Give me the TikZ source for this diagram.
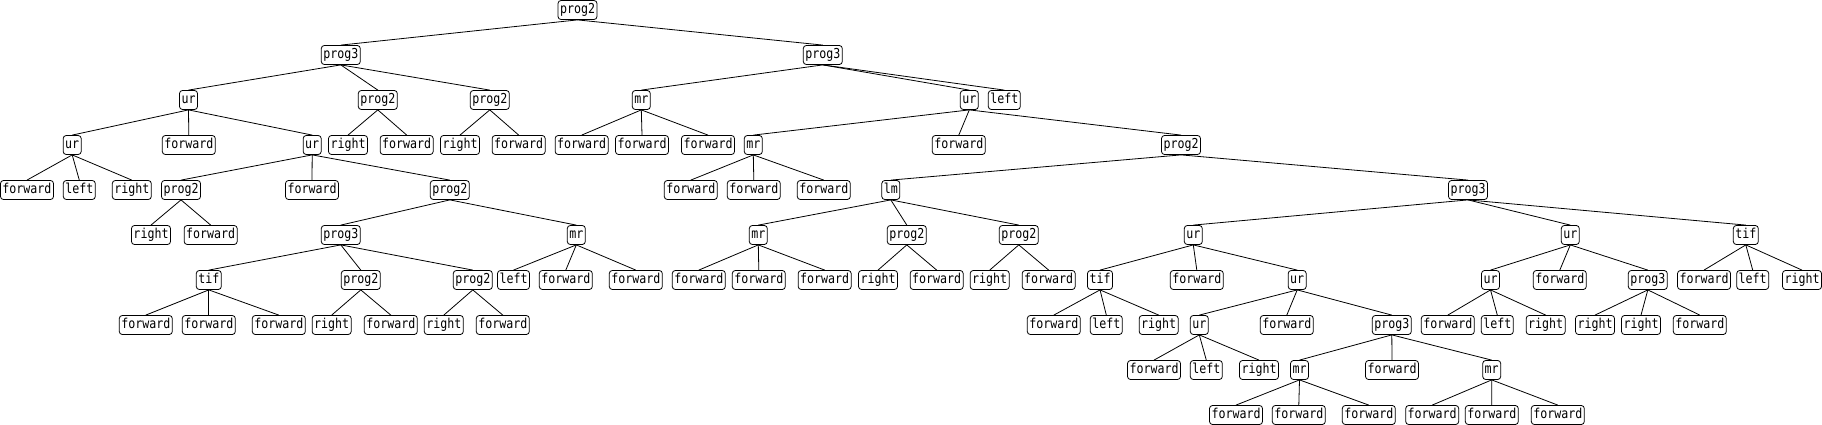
\documentclass[tikz,border=0pt]{standalone}
\usepackage{fontspec}
\setmonofont[FakeStretch=0.85]{DejaVu Sans Mono}
\usetikzlibrary{positioning}

\tikzset{op/.style={draw, rounded corners=3pt, inner xsep=2pt, inner ysep=0pt,
    minimum height=19pt, text height=10pt, text depth=3pt,
    font=\ttfamily\fontsize{13.68}{14}\selectfont}}

\begin{document}
\begin{tikzpicture}[x=1pt, y=-1pt, line width=0.8pt]
        \useasboundingbox (0,0) rectangle (1822,425);

        % Root of the tree
        \node[op] (r) at (577.5,10) {prog2};

        % Each level: name/parent/x/label, the edge goes up to the parent
        \foreach \n/\p/\x/\txt in {r1/r/340.8/prog3, r2/r/822.8/prog3}
        {\node[op] (\n) at (\x,55) {\txt}; \draw (\p.south) -- (\n.north);}

        \foreach \n/\p/\x/\txt in {r11/r1/188.5/ur, r12/r1/377.8/prog2, r13/r1/489.8/prog2,
            r21/r2/641.3/mr, r22/r2/969.3/ur, r23/r2/1004.3/left}
        {\node[op] (\n) at (\x,100) {\txt}; \draw (\p.south) -- (\n.north);}

        \foreach \n/\p/\x/\txt in {r111/r11/72.2/ur, r112/r11/188.8/forward, r113/r11/312.2/ur,
            r121/r12/348/right, r122/r12/406.7/forward,
            r131/r13/460/right, r132/r13/518.7/forward,
            r211/r21/581.7/forward, r212/r21/642/forward, r213/r21/708/forward,
            r221/r22/753.3/mr, r222/r22/958.8/forward, r223/r22/1181/prog2}
        {\node[op] (\n) at (\x,145) {\txt}; \draw (\p.south) -- (\n.north);}

        \foreach \n/\p/\x/\txt in {r1111/r111/27/forward, r1112/r111/79.3/left, r1113/r111/131.8/right,
            r1131/r113/181/prog2, r1132/r113/312/forward, r1133/r113/449.8/prog2,
            r2211/r221/690.8/forward, r2212/r221/753.8/forward, r2213/r221/823.8/forward,
            r2231/r223/890.8/lm, r2232/r223/1468/prog3}
        {\node[op] (\n) at (\x,190) {\txt}; \draw (\p.south) -- (\n.north);}

        \foreach \n/\p/\x/\txt in {r11311/r1131/151/right, r11312/r1131/210.7/forward,
            r11331/r1133/340.8/prog3, r11332/r1133/576.3/mr,
            r22311/r2231/758.3/mr, r22312/r2231/906.8/prog2, r22313/r2231/1018.8/prog2,
            r22321/r2232/1193.3/ur, r22322/r2232/1570.3/ur, r22323/r2232/1745.8/tif}
        {\node[op] (\n) at (\x,235) {\txt}; \draw (\p.south) -- (\n.north);}

        \foreach \n/\p/\x/\txt in {r113311/r11331/208.8/tif, r113312/r11331/360.8/prog2, r113313/r11331/472.8/prog2,
            r113321/r11332/513.5/left, r113322/r11332/565.8/forward, r113323/r11332/635.8/forward,
            r223111/r22311/698.8/forward, r223112/r22311/758.8/forward, r223113/r22311/824.7/forward,
            r223121/r22312/878/right, r223122/r22312/936.7/forward,
            r223131/r22313/989.7/right, r223132/r22313/1048.7/forward,
            r223211/r22321/1100/tif, r223212/r22321/1196.8/forward, r223213/r22321/1297.2/ur,
            r223221/r22322/1490.5/ur, r223222/r22322/1559.8/forward, r223223/r22322/1647.8/prog3,
            r223231/r22323/1704/forward, r223232/r22323/1752.7/left, r223233/r22323/1802/right}
        {\node[op] (\n) at (\x,280) {\txt}; \draw (\p.south) -- (\n.north);}

        \foreach \n/\p/\x/\txt in {r1133111/r113311/145.8/forward, r1133112/r113311/208.8/forward, r1133113/r113311/278.8/forward,
            r1133121/r113312/331.7/right, r1133122/r113312/390.8/forward,
            r1133131/r113313/443.8/right, r1133132/r113313/502.8/forward,
            r2232111/r223211/1053.8/forward, r2232112/r223211/1106.3/left, r2232113/r223211/1158.7/right,
            r2232131/r223213/1199.3/ur, r2232132/r223213/1286.8/forward, r2232133/r223213/1391.8/prog3,
            r2232211/r223221/1447.8/forward, r2232212/r223221/1497.3/left, r2232213/r223221/1545.7/right,
            r2232231/r223223/1595/right, r2232232/r223223/1641/right, r2232233/r223223/1699.8/forward}
        {\node[op] (\n) at (\x,325) {\txt}; \draw (\p.south) -- (\n.north);}

        \foreach \n/\p/\x/\txt in {r22321311/r2232131/1154/forward, r22321312/r2232131/1206.3/left, r22321313/r2232131/1259/right,
            r22321331/r2232133/1299.5/mr, r22321332/r2232133/1392/forward, r22321333/r2232133/1491.7/mr}
        {\node[op] (\n) at (\x,370) {\txt}; \draw (\p.south) -- (\n.north);}

        \foreach \n/\p/\x/\txt in {r223213311/r22321331/1236/forward, r223213312/r22321331/1298.8/forward, r223213313/r22321331/1368.8/forward,
            r223213331/r22321333/1432.2/forward, r223213332/r22321333/1491.8/forward, r223213333/r22321333/1557.8/forward}
        {\node[op] (\n) at (\x,415) {\txt}; \draw (\p.south) -- (\n.north);}
\end{tikzpicture}
\end{document}
